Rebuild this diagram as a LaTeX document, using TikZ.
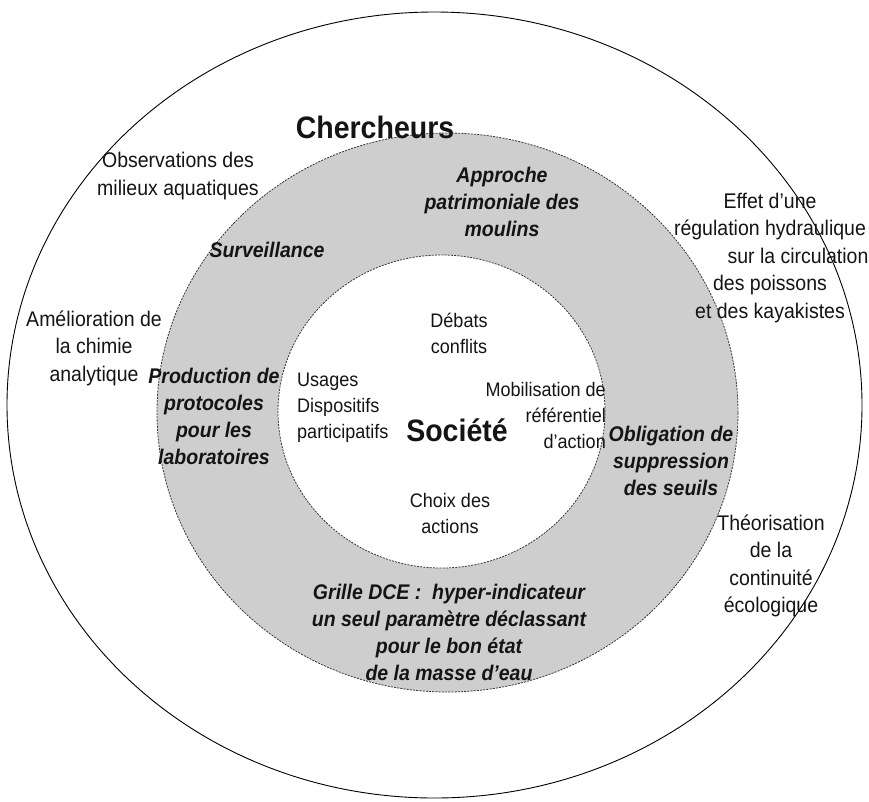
\documentclass[tikz,border=0pt]{standalone}
\usepackage{fontspec}
\setmainfont{Liberation Sans}[FakeStretch=0.92]
\usetikzlibrary{shapes.geometric, positioning}
\definecolor{colRing}  {RGB}{206, 206, 206}
\definecolor{colEdge}  {RGB}{ 55,  55,  55}
\definecolor{colDark}  {RGB}{ 20,  20,  20}
\tikzset{
  outerring/.style={
    ellipse, draw=black, line width=0.9pt, fill=white,
    inner sep=0pt
  },
  dashring/.style={
    ellipse, draw=colEdge, line width=0.8pt,
    dash pattern=on 2pt off 1.2pt, fill=#1,
    inner sep=0pt
  },
  bigtitle/.style={
    font=\bfseries\fontsize{31}{34}\selectfont, text=colDark,
    inner sep=0pt
  },
  outtext/.style={
    font=\fontsize{21.2}{27.5}\selectfont, text=colDark,
    align=center, inner sep=0pt
  },
  ringtext/.style={
    font=\bfseries\itshape\fontsize{21.2}{27}\selectfont, text=colDark,
    align=center, inner sep=0pt
  },
  intext/.style={
    font=\fontsize{19.6}{26}\selectfont, text=colDark,
    inner sep=0pt
  },
}

\begin{document}
\begin{tikzpicture}[x=1pt, y=-1pt]
\useasboundingbox (0,0) rectangle (869,801);

%% ══════════════════════════════════════════════════════════════
%%  RINGS  (outer -> inner)
%% ══════════════════════════════════════════════════════════════
\node[outerring, minimum width=855pt, minimum height=786pt] (outer) at (434.5,405) {};
\node[dashring=colRing, minimum width=581pt, minimum height=559pt] (middle) at (447.5,412.5) {};
\node[dashring=white, minimum width=327pt, minimum height=313pt] (inner) at (441.5,411.5) {};

%% ══════════════════════════════════════════════════════════════
%%  OUTER RING  (Chercheurs)
%% ══════════════════════════════════════════════════════════════
\node[bigtitle] (cher) at (375,127) {Chercheurs};

\node[outtext] (obs) at (178,176) {Observations des\\milieux aquatiques};
\node[outtext] (amel) at (94,348) {Amélioration de\\la chimie\\analytique};
\node[outtext] (effet) at (770,258)
  {Effet d’une\\régulation hydraulique\\\hspace*{56pt}sur la circulation\\des poissons\\et des kayakistes};
\node[outtext] (theo) at (771,566) {Théorisation\\de la\\continuité\\écologique};

%% ══════════════════════════════════════════════════════════════
%%  GREY RING
%% ══════════════════════════════════════════════════════════════
\node[ringtext] (appr) at (502,202) {Approche\\patrimoniale des\\moulins};
\node[ringtext] (surv) at (267,250) {Surveillance};
\node[ringtext] (prod) at (214,416) {Production de\\protocoles\\pour les\\laboratoires};
\node[ringtext] (obli) at (671,461) {Obligation de\\suppression\\des seuils};
\node[ringtext] (gril) at (449,632)
  {Grille DCE :~ hyper-indicateur\\un seul paramètre déclassant\\pour le bon état\\de la masse d’eau};

%% ══════════════════════════════════════════════════════════════
%%  INNER CIRCLE  (Société)
%% ══════════════════════════════════════════════════════════════
\node[bigtitle] (soc) at (457,430) {Société};

\node[intext, align=center] (deba) at (459,333) {Débats\\conflits};
\node[intext, align=left, anchor=west] (usag) at (297,408) {Usages\\Dispositifs\\participatifs};
\node[intext, align=right, anchor=east] (mobi) at (606,415) {Mobilisation de\\référentiel\\d’action};
\node[intext, align=center] (choi) at (450,513) {Choix des\\actions};

\end{tikzpicture}
\end{document}
